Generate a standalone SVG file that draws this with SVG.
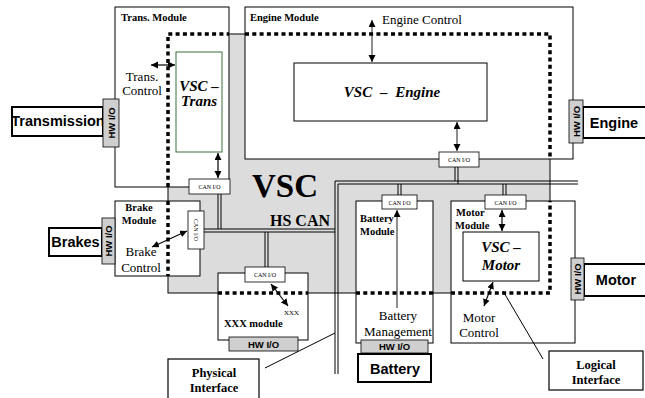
<svg xmlns="http://www.w3.org/2000/svg" width="645" height="398" viewBox="0 0 645 398">
<defs>
<marker id="ah" markerUnits="userSpaceOnUse" markerWidth="8" markerHeight="8" refX="7" refY="3.5" orient="auto-start-reverse"><path d="M0,0 L7,3.5 L0,7 z" fill="#000"/></marker>
<style>
.box{fill:#fff;stroke:#000;stroke-width:1}
.ext{fill:#fff;stroke:#000;stroke-width:2}
.itf{fill:#fff;stroke:#000;stroke-width:1.2}
.can{fill:#fff;stroke:#000;stroke-width:0.8}
.hwb{fill:#cfcfcf;stroke:#000;stroke-width:0.8}
.bus{fill:none;stroke:#000;stroke-width:1}
.dot{fill:none;stroke:#000;stroke-width:3.5;stroke-dasharray:4 3.3}
.arr{stroke:#000;stroke-width:1.2;marker-start:url(#ah);marker-end:url(#ah)}
.arrg{stroke:#444;stroke-width:1.2;marker-start:url(#ah);marker-end:url(#ah)}
.ln{stroke:#000;stroke-width:1}
.ml{font-family:"Liberation Serif",serif;font-weight:bold;font-size:10.5px}
.rg{font-family:"Liberation Serif",serif;font-size:13px}
.vs{font-family:"Liberation Serif",serif;font-weight:bold;font-style:italic;font-size:15px}
.ct{font-family:"Liberation Serif",serif;font-size:6px;text-anchor:middle}
.hw{font-family:"Liberation Sans",sans-serif;font-weight:bold;font-size:9.5px;text-anchor:middle}
.ex{font-family:"Liberation Sans",sans-serif;font-weight:bold;font-size:14.5px;text-anchor:middle}
.it{font-family:"Liberation Serif",serif;font-weight:bold;font-size:12.5px;text-anchor:middle}
.mid{text-anchor:middle}
</style>
</defs>
<rect id="vsc-area" x="168" y="34" width="382" height="259" fill="#dcdcdc" stroke="#000" stroke-width="1"/>

<g id="trans-module">
<rect class="box" x="115" y="7" width="114" height="180"/>
<text class="ml" x="121" y="21">Trans. Module</text>
<rect x="176" y="52" width="46" height="100" fill="#fff" stroke="#3a6e3a" stroke-width="1"/>
<text class="vs mid" x="199" y="91">VSC –</text>
<text class="vs mid" x="199" y="106">Trans</text>
<text class="rg mid" x="142" y="81" font-size="12px">Trans.</text>
<text class="rg mid" x="142" y="95" font-size="12px">Control</text>
</g>

<g id="engine-module">
<rect class="box" x="245" y="7" width="328" height="152"/>
<text class="ml" x="250" y="21">Engine Module</text>
<text class="rg" x="382" y="24">Engine Control</text>
<rect class="box" x="294" y="63" width="193" height="58"/>
<text class="vs mid" x="392" y="97" word-spacing="4">VSC – Engine</text>
</g>

<g id="brake-module">
<rect class="box" x="115" y="201" width="85" height="75"/>
<text class="ml mid" x="139" y="211">Brake</text>
<text class="ml mid" x="139" y="224">Module</text>
<text class="rg mid" x="141" y="256">Brake</text>
<text class="rg mid" x="141" y="272">Control</text>
</g>

<g id="xxx-module">
<rect class="box" x="218" y="273" width="90" height="67"/>
<text class="ml" x="224" y="327">XXX module</text>
<text x="284" y="315" font-family="Liberation Serif, serif" font-size="7px">XXX</text>
</g>

<g id="battery-module">
<rect class="box" x="356" y="201" width="77" height="142"/>
<text class="ml" x="360" y="222">Battery</text>
<text class="ml" x="360" y="235">Module</text>
<text class="rg mid" x="398" y="320">Battery</text>
<text class="rg mid" x="398" y="336" font-size="12.5px">Management</text>
</g>

<g id="motor-module">
<rect class="box" x="451" y="201" width="124" height="142"/>
<text class="ml" x="456" y="216">Motor</text>
<text class="ml" x="455" y="229">Module</text>
<rect class="box" x="463" y="232" width="76" height="49"/>
<text class="vs mid" x="501" y="252">VSC –</text>
<text class="vs mid" x="501" y="270">Motor</text>
<text class="rg mid" x="479" y="322">Motor</text>
<text class="rg mid" x="479" y="337">Control</text>
</g>

<g id="connectors">
<path class="bus" d="M455,167 V181 M458,167 V184"/>
<path class="bus" d="M578,181 H335 V374 M578,184 H338 V374"/>
<path class="bus" d="M398,184 V195 M401,184 V195"/>
<path class="bus" d="M503,184 V195 M506,184 V195"/>
<path class="bus" d="M204,229 H335 M204,232 H335"/>
<path class="bus" d="M218,194 V229 M221,194 V229"/>
<path class="bus" d="M265,232 V267 M268,232 V267"/>
<line class="arr" x1="151" y1="65" x2="175" y2="65"/>
<line class="arr" x1="218" y1="153" x2="218" y2="178"/>
<line class="arrg" x1="372" y1="20" x2="372" y2="62"/>
<line class="arrg" x1="457" y1="122" x2="457" y2="151"/>
<line class="arr" x1="152" y1="247" x2="187" y2="231"/>
<line class="arr" x1="271" y1="284" x2="288" y2="306"/>
<line x1="397" y1="308" x2="397" y2="210" stroke="#444" stroke-width="1.2" marker-end="url(#ah)"/>
<line class="arr" x1="502" y1="210" x2="502" y2="231"/>
<line class="arr" x1="493" y1="282" x2="484" y2="306"/>
<line class="ln" x1="265" y1="368" x2="335" y2="333"/>
<line class="ln" x1="543" y1="359" x2="503" y2="291"/>
</g>

<g id="vsc-boundary">
<path class="dot" d="M168,187 V34 H229"/>
<path class="dot" d="M245,34 H550 V159"/>
<path class="dot" d="M168,201 V276"/>
<path class="dot" d="M218,293 H308"/>
<path class="dot" d="M356,293 H433"/>
<path class="dot" d="M451,293 H550 V201"/>
</g>

<g id="can-trans"><rect class="can" x="189" y="179" width="41" height="15"/><text class="ct" x="209.5" y="189">CAN I/O</text></g>
<g id="can-engine"><rect class="can" x="439" y="152" width="40" height="15"/><text class="ct" x="459" y="162">CAN I/O</text></g>
<g id="can-brake"><rect class="can" x="188" y="211" width="16" height="38"/><text class="ct" transform="translate(194,230) rotate(90)">CAN I/O</text></g>
<g id="can-xxx"><rect class="can" x="245" y="267" width="40" height="15"/><text class="ct" x="265" y="277">CAN I/O</text></g>
<g id="can-battery"><rect class="can" x="382" y="195" width="35" height="14"/><text class="ct" x="399.5" y="204.5">CAN I/O</text></g>
<g id="can-motor"><rect class="can" x="485" y="195" width="41" height="14"/><text class="ct" x="505.5" y="204.5">CAN I/O</text></g>

<g id="transmission">
<rect class="ext" x="12" y="107" width="91" height="29"/>
<text class="ex" x="58" y="126" font-size="12.5px">Transmission</text>
<rect class="hwb" x="103" y="99" width="16" height="48"/>
<text class="hw" transform="translate(114.5,123) rotate(-90)">HW I/O</text>
</g>
<g id="engine">
<rect class="ext" x="583" y="107" width="66" height="31"/>
<text class="ex" x="614" y="128">Engine</text>
<rect class="hwb" x="569" y="100" width="14" height="43"/>
<text class="hw" transform="translate(579.5,121.5) rotate(-90)">HW I/O</text>
</g>
<g id="brakes">
<rect class="ext" x="49" y="228" width="53" height="28"/>
<text class="ex" x="75.5" y="246.5" font-size="13px">Brakes</text>
<rect class="hwb" x="102" y="218" width="13" height="46"/>
<text class="hw" transform="translate(111.8,241) rotate(-90)">HW I/O</text>
</g>
<g id="xxx-hw">
<rect class="hwb" x="229" y="337" width="69" height="14"/>
<text class="hw" x="263.5" y="347.5">HW I/O</text>
</g>
<g id="battery">
<rect class="hwb" x="361" y="340" width="67" height="13"/>
<text class="hw" x="394.5" y="350">HW I/O</text>
<rect class="ext" x="358" y="354" width="73" height="28"/>
<text class="ex" x="395" y="373.5">Battery</text>
</g>
<g id="motor">
<rect class="ext" x="584" y="264" width="66" height="32"/>
<text class="ex" x="616" y="285">Motor</text>
<rect class="hwb" x="571" y="258" width="13" height="42"/>
<text class="hw" transform="translate(580.8,279) rotate(-90)">HW I/O</text>
</g>

<g id="physical-interface">
<rect class="itf" x="168" y="359" width="91" height="43"/>
<text class="it" x="214" y="377">Physical</text>
<text class="it" x="214" y="392">Interface</text>
</g>
<g id="logical-interface">
<rect class="itf" x="549" y="351" width="94" height="39"/>
<text class="it" x="596" y="369">Logical</text>
<text class="it" x="596" y="384">Interface</text>
</g>

<text x="252" y="197" font-family="Liberation Serif, serif" font-weight="bold" font-size="33px">VSC</text>
<text x="270" y="226" font-family="Liberation Serif, serif" font-weight="bold" font-size="16px">HS CAN</text>
</svg>
